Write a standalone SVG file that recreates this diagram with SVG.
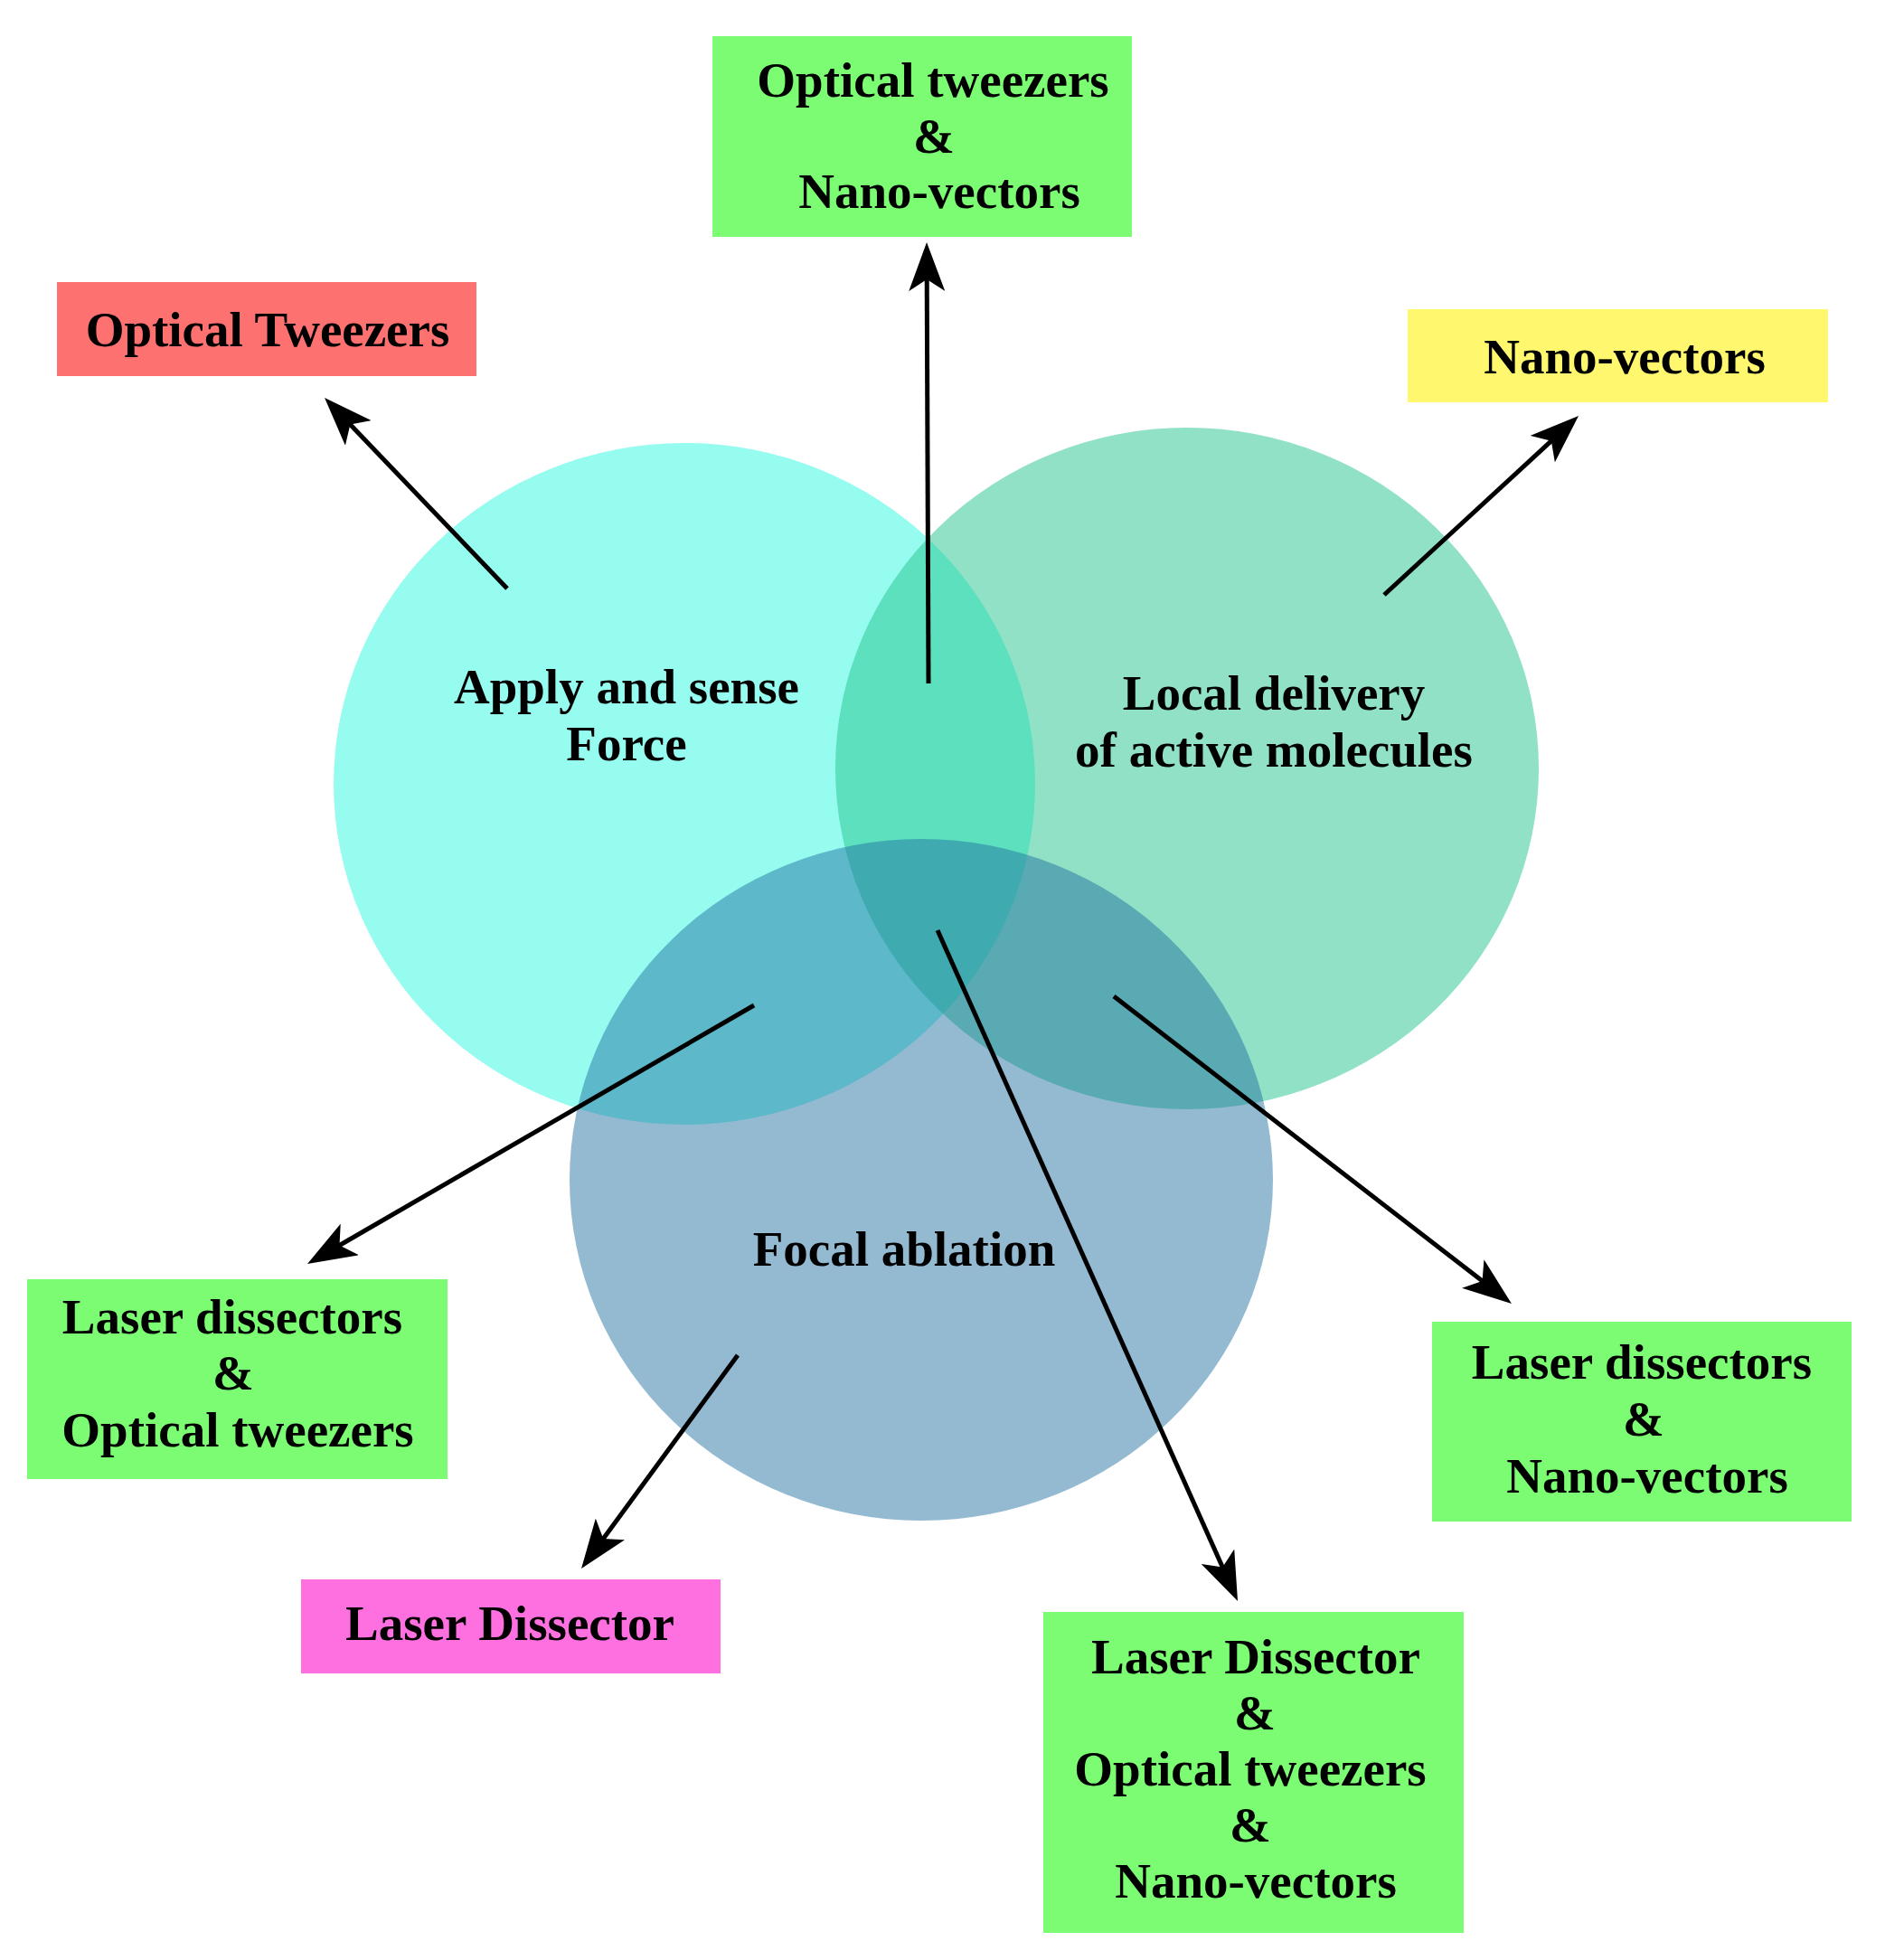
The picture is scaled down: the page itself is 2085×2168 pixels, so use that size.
<svg xmlns="http://www.w3.org/2000/svg" width="2085" height="2168" viewBox="0 0 2085 2168">
<style>
text{font-family:"Liberation Serif","Times New Roman",serif;font-weight:bold;font-size:55px;fill:#000;text-anchor:middle}
.conn{stroke:#000;stroke-width:5;fill:none;marker-end:url(#ah)}
</style>
<defs>
<marker id="ah" viewBox="0 0 54 40" refX="39" refY="20" markerWidth="54" markerHeight="40" markerUnits="userSpaceOnUse" orient="auto">
<path d="M54,20 L0,0 L13,20 L0,40 Z" fill="#000"/>
</marker>
</defs>
<rect width="2085" height="2168" fill="#fff"/>
<g id="circle-force">
<ellipse cx="757" cy="867" rx="388" ry="377" fill="#96FCF0"/>
</g>
<g id="circle-delivery">
<ellipse cx="1313" cy="850" rx="389" ry="377" fill="#22C48C" fill-opacity="0.5"/>
</g>
<g id="circle-ablation">
<ellipse cx="1019" cy="1305" rx="389" ry="377" fill="#206FA1" fill-opacity="0.48"/>
</g>
<g id="label-force">
<text x="693" y="778">Apply and sense</text>
<text x="693" y="841">Force</text>
</g>
<g id="label-delivery">
<text x="1409" y="785">Local delivery</text>
<text x="1409" y="848">of active molecules</text>
</g>
<g id="label-ablation">
<text x="1000" y="1400">Focal ablation</text>
</g>
<g id="connectors">
<line class="conn" x1="561" y1="651" x2="369.4" y2="450.8"/>
<line class="conn" x1="1027" y1="756" x2="1025.1" y2="283"/>
<line class="conn" x1="1531" y1="658" x2="1735" y2="470.2"/>
<line class="conn" x1="834" y1="1112" x2="353" y2="1390.5"/>
<line class="conn" x1="816" y1="1499" x2="651.9" y2="1722.9"/>
<line class="conn" x1="1037" y1="1029" x2="1362.9" y2="1757.3"/>
<line class="conn" x1="1232" y1="1102" x2="1660.1" y2="1432.8"/>
</g>
<g id="box-ot-nv">
<rect x="788" y="40" width="464" height="222" fill="#7CFC73"/>
<text x="1032" y="107">Optical tweezers</text>
<text x="1033" y="169">&amp;</text>
<text x="1039" y="230">Nano-vectors</text>
</g>
<g id="box-ot">
<rect x="63" y="312" width="464" height="104" fill="#FE7171"/>
<text x="296" y="383">Optical Tweezers</text>
</g>
<g id="box-nv">
<rect x="1557" y="342" width="465" height="103" fill="#FFF86F"/>
<text x="1797" y="413">Nano-vectors</text>
</g>
<g id="box-ld-ot">
<rect x="30" y="1415" width="465" height="221" fill="#7CFC73"/>
<text x="257" y="1475">Laser dissectors</text>
<text x="258" y="1537">&amp;</text>
<text x="263" y="1600">Optical tweezers</text>
</g>
<g id="box-ld-nv">
<rect x="1584" y="1462" width="464" height="221" fill="#7CFC73"/>
<text x="1816" y="1525">Laser dissectors</text>
<text x="1818" y="1588">&amp;</text>
<text x="1822" y="1651">Nano-vectors</text>
</g>
<g id="box-ld">
<rect x="333" y="1747" width="464" height="104" fill="#FE70DF"/>
<text x="564" y="1814">Laser Dissector</text>
</g>
<g id="box-all">
<rect x="1154" y="1783" width="465" height="355" fill="#7CFC73"/>
<text x="1389" y="1851">Laser Dissector</text>
<text x="1388" y="1913">&amp;</text>
<text x="1383" y="1975">Optical tweezers</text>
<text x="1383" y="2037">&amp;</text>
<text x="1389" y="2099">Nano-vectors</text>
</g>
</svg>
